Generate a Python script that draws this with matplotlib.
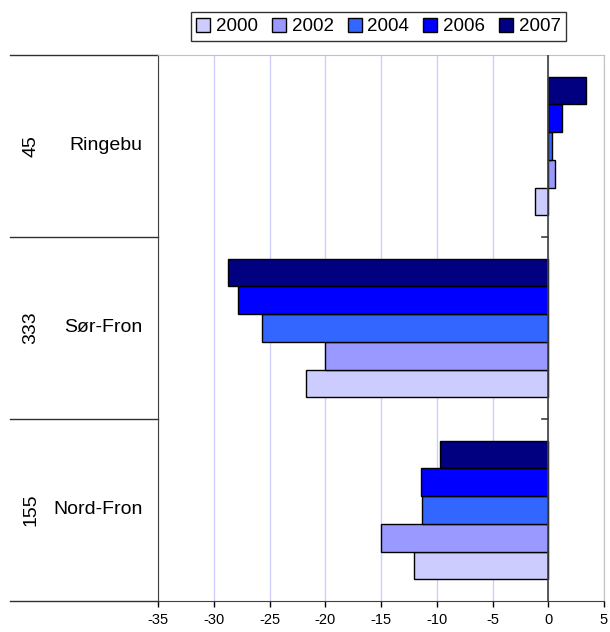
import numpy as np
import matplotlib.pyplot as plt
import matplotlib.transforms as mtransforms

# 데이터
kommuner = ['Nord-Fron', 'Sør-Fron', 'Ringebu']   # bottom to top
koder = ['155', '333', '45']
years = ['2000', '2002', '2004', '2006', '2007']
v2000 = [-12.0, -21.7, -1.2]
v2002 = [-15.0, -20.0, 0.6]
v2004 = [-11.3, -25.7, 0.35]
v2006 = [-11.4, -27.8, 1.25]
v2007 = [-9.75, -28.7, 3.35]
series = [v2000, v2002, v2004, v2006, v2007]
colors = ['#ccccff', '#9999ff', '#3366ff', '#0000ff', '#000080']

plt.rcParams['font.family'] = ['Liberation Sans', 'DejaVu Sans']

fig = plt.figure(figsize=(6.10, 6.32), dpi=100)
ax = fig.add_axes([158 / 610, 31 / 632, 446 / 610, 546 / 632])

# 막대 그리기
y = np.arange(len(kommuner))
h = 0.763 / len(years)
for i, (yr, vals) in enumerate(zip(years, series)):
    ax.barh(y + (i - 2) * h, vals, height=h, color=colors[i],
            edgecolor='black', linewidth=1, label=yr, zorder=3)

ax.set_xlim(-35, 5)
ax.set_ylim(-0.5, len(kommuner) - 0.5)
ax.set_xticks(np.arange(-35, 6, 5))
ax.set_xticklabels([str(t) for t in range(-35, 6, 5)], fontsize=10.5)
ax.tick_params(axis='x', direction='out', length=4, width=1, pad=5)
ax.set_yticks([])
ax.xaxis.grid(True, color='#d0d0ff', linewidth=1)
ax.set_axisbelow(True)

# 테두리
ax.spines['left'].set_color('#404040')
ax.spines['bottom'].set_color('#404040')
ax.spines['top'].set_color('#c0c0c0')
ax.spines['right'].set_color('#c0c0c0')

# 0 기준선과 눈금
ax.axvline(0, color='#404040', linewidth=1.2, zorder=4)
for b in [0.5, 1.5]:
    ax.plot([-0.55, 0], [b, b], color='#404040', linewidth=1.2, zorder=4)

# 왼쪽 범주 라벨 (두 단계)
trans = mtransforms.blended_transform_factory(ax.transAxes, ax.transData)
for b in np.arange(-0.5, len(kommuner), 1.0):
    ax.plot([-0.332, 0], [b, b], color='#303030', linewidth=1,
            transform=trans, clip_on=False)
for yy, navn, kode in zip(y, kommuner, koder):
    ax.text(-0.034, yy, navn, transform=trans, ha='right', va='center',
            fontsize=14)
    ax.text(-0.285, yy, kode, transform=trans, ha='center', va='center',
            fontsize=14, rotation=90)

# 범례
handles, labels = ax.get_legend_handles_labels()
leg = fig.legend(handles, labels, loc='center', ncol=5,
                 bbox_to_anchor=(378.5 / 610, 1 - 26.5 / 632),
                 fontsize=13.5, frameon=True, fancybox=False,
                 edgecolor='black', handlelength=0.75, handleheight=0.75,
                 handletextpad=0.3, columnspacing=0.75, borderpad=0.3,
                 borderaxespad=0)
leg.get_frame().set_linewidth(1)

fig.savefig('out.png', dpi=100)
